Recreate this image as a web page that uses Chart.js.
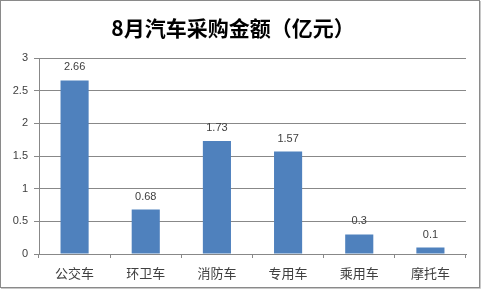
<!DOCTYPE html>
<html>
<head>
<meta charset="utf-8">
<script src="https://cdn.jsdelivr.net/npm/chart.js@4/dist/chart.umd.min.js"></script>
<style>
  html, body { margin: 0; padding: 0; background: #fff; }
  #wrap { width: 481px; height: 289px; position: relative; }
</style>
</head>
<body>
<div id="wrap"><canvas id="chart" width="481" height="289"></canvas></div>
<script>
const title = "8月汽车采购金额（亿元）";
const categories = ["公交车", "环卫车", "消防车", "专用车", "乘用车", "摩托车"];
const amounts = [2.66, 0.68, 1.73, 1.57, 0.3, 0.1];
const yTicks = [0, 0.5, 1, 1.5, 2, 2.5, 3];

const gridGray = "#888888";
const textGray = "#404040";

// frame around the whole picture, like the office chart border
const framePlugin = {
  id: "frame",
  afterDraw(chart) {
    const c = chart.ctx;
    c.save();
    c.strokeStyle = "#8a8a8a";
    c.lineWidth = 1;
    c.strokeRect(0.5, 0.5, chart.width - 2, chart.height - 2);
    c.strokeStyle = "#c8c8c8";
    c.beginPath();
    c.moveTo(chart.width - 0.5, 1);
    c.lineTo(chart.width - 0.5, chart.height - 0.5);
    c.lineTo(1, chart.height - 0.5);
    c.stroke();
    c.restore();
  }
};

// value labels above each bar
const valueLabels = {
  id: "valueLabels",
  afterDatasetsDraw(chart) {
    const c = chart.ctx;
    const meta = chart.getDatasetMeta(0);
    c.save();
    c.font = "11px 'Liberation Sans', Arial, sans-serif";
    c.fillStyle = textGray;
    c.textAlign = "center";
    c.textBaseline = "middle";
    meta.data.forEach((bar, i) => {
      c.fillText(String(amounts[i]), bar.x, bar.y - 13);
    });
    c.restore();
  }
};

new Chart(document.getElementById("chart").getContext("2d"), {
  type: "bar",
  data: {
    labels: categories,
    datasets: [{
      data: amounts,
      backgroundColor: "#4F81BD",
      borderWidth: 0,
      categoryPercentage: 1,
      barPercentage: 0.395
    }]
  },
  options: {
    responsive: false,
    animation: false,
    layout: { padding: { left: 0, right: 15, top: 0, bottom: 0 } },
    plugins: {
      legend: { display: false },
      tooltip: { enabled: false },
      title: {
        display: true,
        text: title,
        color: "#000",
        font: { family: "'Noto Sans CJK SC', sans-serif", size: 21, weight: "bold", lineHeight: 1.2 },
        padding: { top: 15, bottom: 18 }
      }
    },
    scales: {
      x: {
        grid: {
          offset: true,
          drawOnChartArea: false,
          drawTicks: true,
          tickLength: 4,
          color: gridGray
        },
        border: { color: gridGray },
        ticks: {
          color: textGray,
          padding: 7,
          font: { family: "'Noto Sans CJK SC', sans-serif", size: 13 }
        },
        afterFit(scale) { scale.height = 35; }
      },
      y: {
        min: 0,
        max: 3,
        afterBuildTicks(scale) { scale.ticks = yTicks.map(v => ({ value: v })); },
        grid: { color: gridGray, tickLength: 5 },
        border: { color: gridGray },
        ticks: {
          color: textGray,
          padding: 6,
          font: { family: "'Liberation Sans', Arial, sans-serif", size: 11 },
          callback: v => String(v)
        },
        afterFit(scale) { scale.width = 39; }
      }
    }
  },
  plugins: [framePlugin, valueLabels]
});
</script>
</body>
</html>
